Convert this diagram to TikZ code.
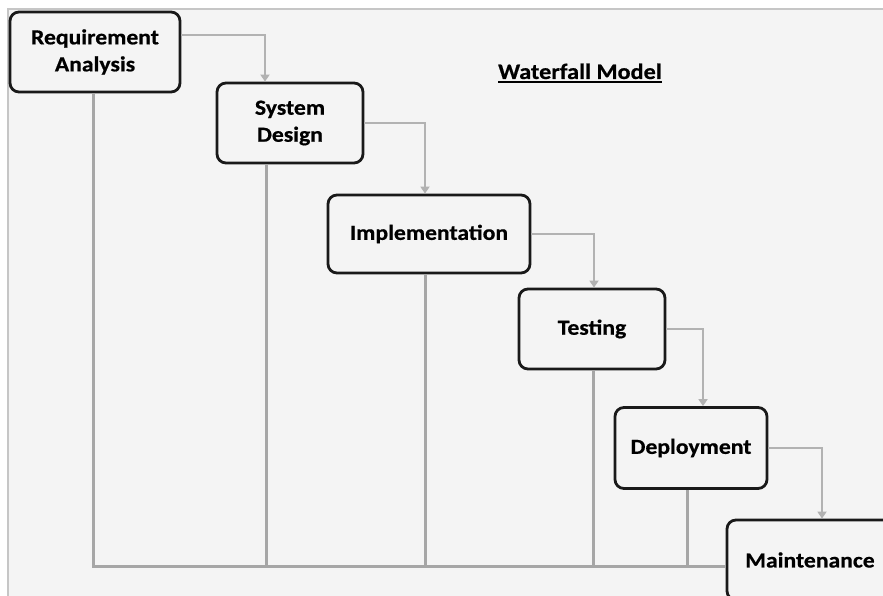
\documentclass[tikz,border=0pt]{standalone}
\usepackage{fontspec}
\setmainfont{Carlito}[FakeStretch=1.1,FakeBold=0.6]
\usetikzlibrary{arrows.meta}
\definecolor{bgcol}{HTML}{F4F4F4}
\definecolor{flowcol}{HTML}{B2B2B2}
\definecolor{backcol}{HTML}{A6A6A6}
\definecolor{framecol}{HTML}{C6C6C6}

\begin{document}
\begin{tikzpicture}[x=1pt,y=-1pt]
    \tikzset{
        phase/.style={draw=black!90, line width=2.8pt, rounded corners=9pt, fill=bgcol, align=center,
            inner sep=0pt, font=\fontsize{21.5}{27}\selectfont\bfseries},
        flow/.style={draw=flowcol, line width=2.8pt, -{Triangle[width=9pt,length=7pt]}},
        back/.style={draw=backcol, line width=3pt}
    }
    % Page and frame:
    \useasboundingbox (0,0) rectangle (883,596);
    \clip (0,0) rectangle (883,596);
    \fill [white] (0,0) rectangle (883,596);
    \fill [bgcol] (8,9) rectangle (883,596);
    \draw [framecol, line width=1.5pt] (8,596) |- (883,9);

    % Title
    \node [anchor=base west, inner sep=0pt, font=\fontsize{22}{25}\selectfont\bfseries] (title) at (498,79) {Waterfall Model};
    \draw [line width=2pt] (title.base west) ++(0,-3.5pt) coordinate (ul) -- (ul -| title.east);

    % Phases:
    \node [phase, minimum width=170pt, minimum height=80pt] (req) at (95,52) {Requirement\\Analysis};
    \node [phase, minimum width=146pt, minimum height=80pt] (des) at (290,123) {System\\Design};
    \node [phase, minimum width=202pt, minimum height=78pt] (impl) at (429,234) {Implementation};
    \node [phase, minimum width=146pt, minimum height=80pt] (test) at (592,329) {Testing};
    \node [phase, minimum width=152pt, minimum height=81pt] (depl) at (691,448) {Deployment};
    \node [phase, minimum width=166pt, minimum height=80pt] (maint) at (810,560) {Maintenance};

    % Forward steps:
    \draw [flow] ([yshift=17pt]req.east) -| ([xshift=-25pt]des.north);
    \draw [flow] (des.east) -| ([xshift=-4pt]impl.north);
    \draw [flow] (impl.east) -| ([xshift=2pt]test.north);
    \draw [flow] (test.east) -| ([xshift=12pt]depl.north);
    \draw [flow] (depl.east) -| ([xshift=12pt]maint.north);

    % Feedback lines:
    % All run down to one line that ends at the last phase
    \coordinate (base) at (0,566);
    \draw [back] ([xshift=-2pt]req.south) |- ([yshift=-6pt]maint.west);
    \foreach \p/\s in {des/-24, impl/-4, test/1, depl/-4}{%
        \draw [back] ([xshift=\s pt]\p.south) -- ([xshift=\s pt]\p.south |- base);
    }
\end{tikzpicture}
\end{document}
